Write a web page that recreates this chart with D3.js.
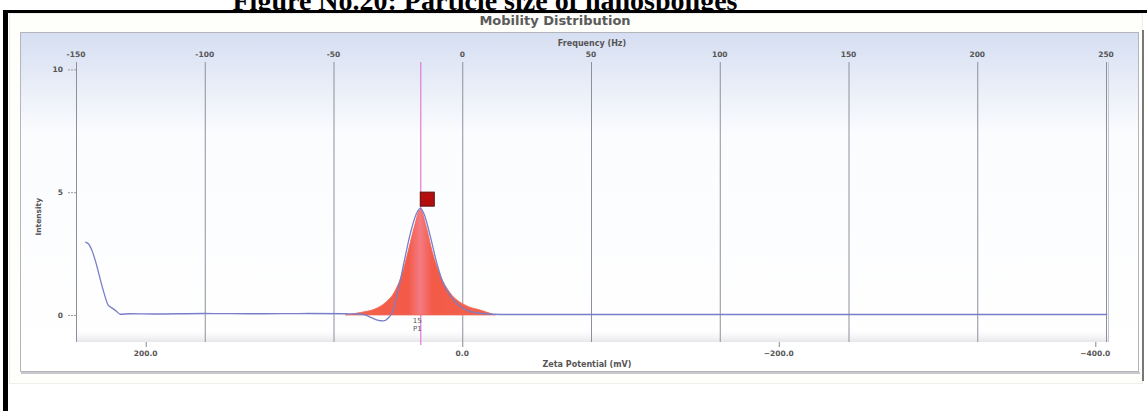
<!DOCTYPE html>
<html>
<head>
<meta charset="utf-8">
<script src="https://cdn.jsdelivr.net/npm/d3@7"></script>
<style>
  html, body { margin: 0; padding: 0; background: #fff; }
  svg { display: block; }
  text { font-family: "DejaVu Sans", Verdana, sans-serif; }
</style>
</head>
<body>
<svg id="chart" width="1147" height="411"></svg>
<script>
// Tick values for the three axes
const freqTicks = [-150, -100, -50, 0, 50, 100, 150, 200, 250];
const zetaTicks = [200, 0, -200, -400];
const countTicks = [0, 5, 10];

// Measured mobility distribution (frequency in Hz, counts)
const curveFreq = [-146.4, -145.2, -143.7, -142.1, -140.6, -139.0, -137.5, -135.9, -134.4, -132.8,
  -128.9, -120, -100, -80, -60, -45, -40, -37.7, -35.0, -32.6, -30.7, -28.7, -27.2, -24.9, -22.5,
  -20.2, -17.9, -16.3, -14.8, -12.4, -10.1, -7.8, -4.7, -0.8, 3.1, 8.9, 14.8, 50, 100, 150, 200, 250.5];
const curveCounts = [2.97, 2.9, 2.6, 2.07, 1.46, 0.85, 0.4, 0.28, 0.16, 0.03,
  0.05, 0.04, 0.06, 0.05, 0.06, 0.05, 0.04, 0.0, -0.12, -0.22, -0.24, -0.12, 0.1, 1.0, 2.2,
  3.3, 4.1, 4.35, 4.1, 3.2, 2.2, 1.4, 0.8, 0.35, 0.15, 0.05, 0.02, 0.02, 0.02, 0.02, 0.02, 0.02];

// Fitted peak (filled)
const fitFreq = [-45.4, -39.6, -33.8, -29.9, -26.0, -23.3, -21.0, -18.6, -16.3, -14.0, -11.7, -8.5, -4.7, 1.2, 7.0, 12.8];
const fitCounts = [0, 0.1, 0.25, 0.5, 1.0, 1.7, 2.6, 3.6, 4.3, 3.6, 2.6, 1.6, 0.9, 0.4, 0.2, 0];

const peakFreq = -16.3;
const peakCount = 4.35;
const peakLabels = ["15", "P1"];

// Zeta potential (mV) per frequency unit (Hz)
const zetaPerHz = -1.627;

const svg = d3.select("#chart");
const W = 1147, H = 411;

const plot = { left: 76, right: 1108, top: 62, bottom: 342 };

const xF = d3.scaleLinear().domain([-150, 250]).range([76, 1106]);
const xZ = d3.scaleLinear().domain([0, 400 * 1]).range([xF(0), xF(0) + 400 / -zetaPerHz * (xF(1) - xF(0))]);
// map negative zeta to the right side
const xZeta = v => xZ(-v);
const y = d3.scaleLinear().domain([-1.1, 10.3]).range([plot.bottom, plot.top]);

const defs = svg.append("defs");

const panelGrad = defs.append("linearGradient").attr("id", "panelGrad")
  .attr("x1", 0).attr("y1", 0).attr("x2", 0).attr("y2", 1);
panelGrad.append("stop").attr("offset", "0").attr("stop-color", "#d6def2");
panelGrad.append("stop").attr("offset", "0.12").attr("stop-color", "#e4eaf6");
panelGrad.append("stop").attr("offset", "0.3").attr("stop-color", "#fbfcfe");
panelGrad.append("stop").attr("offset", "1").attr("stop-color", "#ffffff");

const bottomGrad = defs.append("linearGradient").attr("id", "bottomGrad")
  .attr("x1", 0).attr("y1", 0).attr("x2", 0).attr("y2", 1);
bottomGrad.append("stop").attr("offset", "0").attr("stop-color", "#ffffff").attr("stop-opacity", 0);
bottomGrad.append("stop").attr("offset", "1").attr("stop-color", "#e6e6ea");

const fillGrad = defs.append("linearGradient").attr("id", "fillGrad")
  .attr("x1", 0).attr("y1", 0).attr("x2", 1).attr("y2", 0);
fillGrad.append("stop").attr("offset", "0").attr("stop-color", "#f2654c");
fillGrad.append("stop").attr("offset", "0.42").attr("stop-color", "#f35a48");
fillGrad.append("stop").attr("offset", "0.5").attr("stop-color", "#f47a82");
fillGrad.append("stop").attr("offset", "0.58").attr("stop-color", "#f35a48");
fillGrad.append("stop").attr("offset", "1").attr("stop-color", "#f2654c");

defs.append("clipPath").attr("id", "titleClip")
  .append("rect").attr("x", 0).attr("y", 0).attr("width", W).attr("height", 10);

svg.append("rect").attr("width", W).attr("height", H).attr("fill", "#fff");

// Figure caption (top cut by the frame)
svg.append("text")
  .attr("clip-path", "url(#titleClip)")
  .attr("x", 485).attr("y", 10)
  .attr("text-anchor", "middle")
  .style("font-family", "'Liberation Serif', 'Times New Roman', serif")
  .style("font-weight", "bold")
  .style("font-size", "28px")
  .attr("fill", "#000")
  .text("Figure No.20: Particle size of nanosponges");

// Outer light frame
svg.append("rect").attr("x", 9.5).attr("y", 13.5).attr("width", 1133).attr("height", 370)
  .attr("fill", "#fefefb").attr("stroke", "#eeeeee");

// Chart title
svg.append("text")
  .attr("x", 555).attr("y", 25)
  .attr("text-anchor", "middle")
  .style("font-size", "13px")
  .style("font-weight", "bold")
  .attr("fill", "#5a5a5a")
  .text("Mobility Distribution");

// Panel
svg.append("rect").attr("x", 20.5).attr("y", 32.5).attr("width", 1118).attr("height", 339)
  .attr("fill", "url(#panelGrad)").attr("stroke", "#b4b6bc");
svg.append("line").attr("x1", 21).attr("x2", 1140).attr("y1", 373).attr("y2", 373)
  .attr("stroke", "#c8c8cc").attr("stroke-width", 2);

// Bottom shading of plot area
svg.append("rect").attr("x", plot.left).attr("y", plot.bottom - 14)
  .attr("width", plot.right - plot.left).attr("height", 14)
  .attr("fill", "url(#bottomGrad)");

// Vertical gridlines at frequency ticks
svg.append("g").selectAll("line").data(freqTicks).join("line")
  .attr("x1", d => xF(d) + 0.5).attr("x2", d => xF(d) + 0.5)
  .attr("y1", plot.top).attr("y2", plot.bottom)
  .attr("stroke", "#8d909c").attr("stroke-width", 1);
svg.append("line").attr("x1", plot.right + 0.5).attr("x2", plot.right + 0.5)
  .attr("y1", plot.top).attr("y2", plot.bottom).attr("stroke", "#c4c6d0");

// Top (frequency) axis labels
svg.append("g").selectAll("text").data(freqTicks).join("text")
  .attr("x", d => xF(d)).attr("y", 57)
  .attr("text-anchor", "middle")
  .style("font-size", "7.5px").style("font-weight", "bold")
  .attr("fill", "#555")
  .text(d => d);
svg.append("text").attr("x", 592).attr("y", 46).attr("text-anchor", "middle")
  .style("font-size", "8px").style("font-weight", "bold").attr("fill", "#555")
  .text("Frequency (Hz)");

// Left (counts) axis
svg.append("g").selectAll("text").data(countTicks).join("text")
  .attr("x", 63).attr("y", d => y(d) + 3)
  .attr("text-anchor", "end")
  .style("font-size", "7.5px").style("font-weight", "bold")
  .attr("fill", "#555")
  .text(d => d);
svg.append("g").selectAll("line").data(countTicks).join("line")
  .attr("x1", 68).attr("x2", 76).attr("y1", d => y(d) + 0.5).attr("y2", d => y(d) + 0.5)
  .attr("stroke", "#999").attr("stroke-dasharray", "2,1");
svg.append("text")
  .attr("transform", `translate(41,${y(4)}) rotate(-90)`)
  .attr("text-anchor", "middle")
  .style("font-size", "7.5px").style("font-weight", "bold")
  .attr("fill", "#555")
  .text("Intensity");

// Bottom (zeta potential) axis
svg.append("g").selectAll("line").data(zetaTicks).join("line")
  .attr("x1", d => xZeta(d) + 0.5).attr("x2", d => xZeta(d) + 0.5)
  .attr("y1", plot.bottom).attr("y2", plot.bottom + 5)
  .attr("stroke", "#888");
svg.append("g").selectAll("text").data(zetaTicks).join("text")
  .attr("x", d => xZeta(d)).attr("y", 356)
  .attr("text-anchor", "middle")
  .style("font-size", "7.5px").style("font-weight", "bold")
  .attr("fill", "#555")
  .text(d => d3.format(".1f")(d));
svg.append("text").attr("x", 587).attr("y", 367).attr("text-anchor", "middle")
  .style("font-size", "8px").style("font-weight", "bold").attr("fill", "#555")
  .text("Zeta Potential (mV)");

// Peak marker line
svg.append("line").attr("x1", xF(peakFreq) + 0.5).attr("x2", xF(peakFreq) + 0.5)
  .attr("y1", plot.top).attr("y2", plot.bottom + 3)
  .attr("stroke", "#e27ad6").attr("stroke-width", 1.2);

// Fitted peak area
const fitData = fitFreq.map((f, i) => [f, fitCounts[i]]);
svg.append("path").datum(fitData)
  .attr("d", d3.area().x(d => xF(d[0])).y0(y(0)).y1(d => y(d[1])).curve(d3.curveMonotoneX))
  .attr("fill", "url(#fillGrad)")
  .attr("stroke", "#ee6a55").attr("stroke-width", 0.8);

// Measured curve
const curveData = curveFreq.map((f, i) => [f, curveCounts[i]]);
svg.append("path").datum(curveData)
  .attr("d", d3.line().x(d => xF(d[0])).y(d => y(d[1])).curve(d3.curveMonotoneX))
  .attr("fill", "none")
  .attr("stroke", "#7a7ec8").attr("stroke-width", 1.3);

// Peak marker box
svg.append("rect")
  .attr("x", xF(peakFreq)).attr("y", y(peakCount) - 16)
  .attr("width", 14).attr("height", 14)
  .attr("fill", "#b40d0d").attr("stroke", "#5a1010").attr("stroke-width", 1);

// Peak labels
svg.append("g").selectAll("text").data(peakLabels).join("text")
  .attr("x", xF(peakFreq) - 3).attr("y", (d, i) => y(0) + 8 + i * 8)
  .attr("text-anchor", "middle")
  .style("font-size", "7px")
  .attr("fill", "#555")
  .text(d => d);

// Right-side dark edge
svg.append("line").attr("x1", 1143).attr("x2", 1143).attr("y1", 30).attr("y2", 381)
  .attr("stroke", "#777").attr("stroke-width", 2);

// Black frame
svg.append("rect").attr("x", 3).attr("y", 10).attr("width", W - 3).attr("height", 3).attr("fill", "#000");
svg.append("rect").attr("x", 3).attr("y", 10).attr("width", 5).attr("height", H - 10).attr("fill", "#000");
</script>
</body>
</html>
